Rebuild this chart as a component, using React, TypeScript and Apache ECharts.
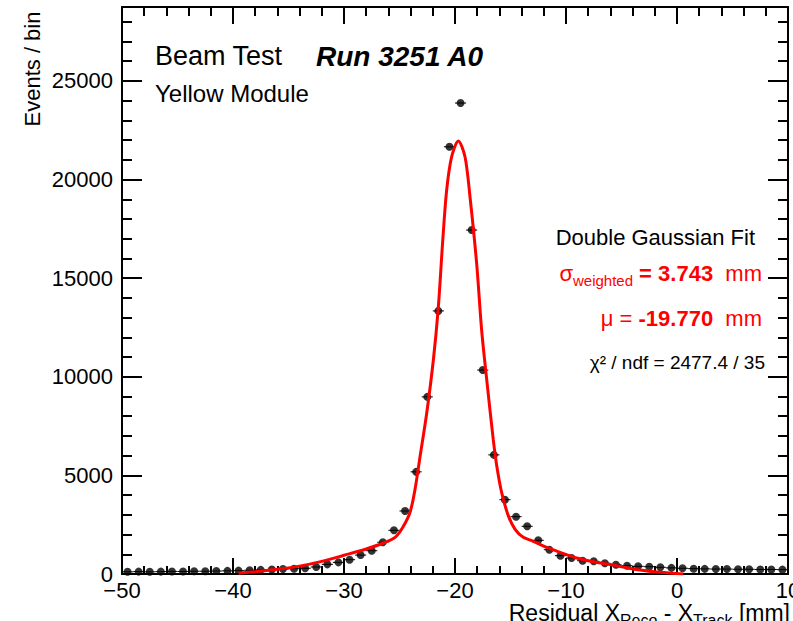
import React, { useEffect, useRef } from "react";
import * as echarts from "echarts";

const binCenters = [
  -49.5, -48.5, -47.5, -46.5, -45.5, -44.5, -43.5, -42.5, -41.5, -40.5,
  -39.5, -38.5, -37.5, -36.5, -35.5, -34.5, -33.5, -32.5, -31.5, -30.5,
  -29.5, -28.5, -27.5, -26.5, -25.5, -24.5, -23.5, -22.5, -21.5, -20.5,
  -19.5, -18.5, -17.5, -16.5, -15.5, -14.5, -13.5, -12.5, -11.5, -10.5,
  -9.5, -8.5, -7.5, -6.5, -5.5, -4.5, -3.5, -2.5, -1.5, -0.5,
  0.5, 1.5, 2.5, 3.5, 4.5, 5.5, 6.5, 7.5, 8.5, 9.5,
];
const counts = [
  110, 120, 110, 120, 130, 130, 140, 140, 150, 160,
  170, 190, 210, 230, 250, 270, 290, 355, 490, 590,
  725, 960, 1180, 1610, 2215, 3195, 5180, 8980, 13340, 21660,
  23880, 17440, 10340, 6040, 3768, 2906, 2419, 1709, 1232, 928,
  811, 674, 644, 543, 470, 420, 390, 370, 340, 310,
  290, 270, 260, 250, 250, 240, 240, 230, 230, 220,
];
const halfBin = 0.5;

const fitX = [
  -39.5, -38.0, -36.0, -34.0, -32.0, -30.0, -28.0, -26.5, -25.4, -24.7,
  -24.05, -23.6, -23.15, -22.55, -21.95, -21.5, -21.1, -20.75, -20.3, -19.7,
  -19.1, -18.65, -18.05, -17.6, -17.14, -16.55, -16.24, -15.8, -15.2, -14.6,
  -13.85, -12.95, -11.74, -10.54, -9.04, -7.54, -5.43, -3.33, -1.53, 0.57,
];
const fitY = [
  40, 120, 240, 400, 640, 950, 1270, 1560, 1860, 2370,
  3130, 4300, 5950, 8150, 10850, 13550, 16940, 19470, 21160, 21950,
  21160, 19130, 15750, 12370, 9840, 6800, 5490, 4140, 2960, 2280,
  1860, 1660, 1350, 1100, 810, 620, 420, 200, 85, 0,
];

const xMin = -50;
const xMax = 10;
const yMax = 28750;

const FONT = "'Liberation Sans', Arial, Helvetica, sans-serif";

export default function App() {
  const ref = useRef<HTMLDivElement>(null);
  useEffect(() => {
    if (!ref.current) return;
    const chart = echarts.init(ref.current, undefined, { renderer: "svg" });
    const black = "#000";
    const fmtX = (v: number) => (v < 0 ? "\u2212" + Math.abs(v) : String(v));
    const baseAxisLine = { show: true, onZero: false, lineStyle: { color: black, width: 2 } };
    const hiddenLine = { show: false, onZero: false };

    const option: any = {
      animation: false,
      grid: { left: 122, right: 5, top: 7, bottom: 47, containLabel: false, outerBoundsMode: "none" },
      xAxis: [
        {
          type: "value", min: xMin, max: xMax, interval: 10, position: "bottom",
          axisLine: baseAxisLine,
          axisTick: { show: true, inside: true, length: 16, lineStyle: { color: black, width: 2 } },
          minorTick: { show: true, splitNumber: 5, length: 8, lineStyle: { color: black, width: 2 } },
          axisLabel: { show: true, margin: 5, color: black, fontSize: 22, fontFamily: FONT, formatter: fmtX },
          splitLine: { show: false },
        },
        {
          type: "value", min: xMin, max: xMax, interval: 10, position: "top",
          axisLine: baseAxisLine,
          axisTick: { show: true, inside: true, length: 17, lineStyle: { color: black, width: 2 } },
          minorTick: { show: true, splitNumber: 5, length: 9, lineStyle: { color: black, width: 2 } },
          axisLabel: { show: false },
          splitLine: { show: false },
        },
      ],
      yAxis: [
        {
          type: "value", min: 0, max: yMax, interval: 5000, position: "left",
          axisLine: baseAxisLine,
          axisTick: { show: true, inside: true, length: 20, lineStyle: { color: black, width: 2 } },
          axisLabel: {
            show: true, margin: 9, color: black, fontSize: 22, fontFamily: FONT,
            formatter: (v: number) => (v % 5000 === 0 ? String(v) : ""),
          },
          splitLine: { show: false },
        },
        {
          type: "value", min: 0, max: yMax, interval: 1000, position: "left",
          axisLine: hiddenLine,
          axisTick: { show: true, inside: true, length: 10, lineStyle: { color: black, width: 2 } },
          axisLabel: { show: false },
          splitLine: { show: false },
        },
        {
          type: "value", min: 0, max: yMax, interval: 5000, position: "right",
          axisLine: baseAxisLine,
          axisTick: { show: true, inside: true, length: 20, lineStyle: { color: black, width: 2 } },
          axisLabel: { show: false },
          splitLine: { show: false },
        },
        {
          type: "value", min: 0, max: yMax, interval: 1000, position: "right",
          axisLine: hiddenLine,
          axisTick: { show: true, inside: true, length: 10, lineStyle: { color: black, width: 2 } },
          axisLabel: { show: false },
          splitLine: { show: false },
        },
      ],
      series: [
        {
          type: "custom",
          xAxisIndex: 0, yAxisIndex: 0,
          clip: true,
          data: binCenters.map((x, i) => [x, counts[i]]),
          renderItem: (params: any, api: any) => {
            const x = api.value(0);
            const y = api.value(1);
            const p1 = api.coord([x - halfBin, y]);
            const p2 = api.coord([x + halfBin, y]);
            return {
              type: "line",
              shape: { x1: p1[0], y1: p1[1], x2: p2[0], y2: p2[1] },
              style: { stroke: black, lineWidth: 1 },
            };
          },
          z: 2,
        },
        {
          type: "scatter",
          xAxisIndex: 0, yAxisIndex: 0,
          symbol: "circle",
          symbolSize: 8,
          itemStyle: { color: black },
          data: binCenters.map((x, i) => [x, counts[i]]),
          z: 3,
        },
        {
          type: "line",
          xAxisIndex: 0, yAxisIndex: 0,
          data: fitX.map((x, i) => [x, fitY[i]]),
          smooth: 0.3,
          showSymbol: false,
          symbol: "none",
          lineStyle: { color: "#ff0000", width: 3 },
          z: 4,
        },
      ],
      graphic: [
        {
          type: "text", x: 155, y: 56,
          style: { text: "Beam Test", fill: black, font: `27px ${FONT}`, align: "left", verticalAlign: "middle" },
        },
        {
          type: "text", x: 316, y: 56,
          style: { text: "Run 3251 A0", fill: black, font: `italic bold 28px ${FONT}`, align: "left", verticalAlign: "middle" },
        },
        {
          type: "text", x: 155, y: 93,
          style: { text: "Yellow Module", fill: black, font: `24px ${FONT}`, align: "left", verticalAlign: "middle" },
        },
        {
          type: "text", x: 755, y: 237,
          style: { text: "Double Gaussian Fit", fill: black, font: `22px ${FONT}`, align: "right", verticalAlign: "middle" },
        },
        {
          type: "text", x: 762, y: 273,
          style: {
            text: "{n|\u03c3}{sub|weighted}{b| = 3.743}{n|  mm}",
            align: "right", verticalAlign: "middle",
            rich: {
              n: { fontSize: 22, fontFamily: FONT, fill: "#ff0000", color: "#ff0000", lineHeight: 30 },
              b: { fontSize: 22, fontWeight: "bold", fontFamily: FONT, fill: "#ff0000", color: "#ff0000", lineHeight: 30 },
              sub: { fontSize: 15, fontFamily: FONT, fill: "#ff0000", color: "#ff0000", lineHeight: 15, verticalAlign: "bottom" },
            },
          },
        },
        {
          type: "text", x: 762, y: 318,
          style: {
            text: "{n|\u03bc = }{b|-19.770}{n|  mm}",
            align: "right", verticalAlign: "middle",
            rich: {
              n: { fontSize: 22, fontFamily: FONT, fill: "#ff0000", color: "#ff0000", lineHeight: 30 },
              b: { fontSize: 22, fontWeight: "bold", fontFamily: FONT, fill: "#ff0000", color: "#ff0000", lineHeight: 30 },
            },
          },
        },
        {
          type: "text", x: 765, y: 362,
          style: { text: "\u03c7\u00b2 / ndf = 2477.4 / 35", fill: black, font: `19px ${FONT}`, align: "right", verticalAlign: "middle" },
        },
        {
          type: "text", x: 32, y: 69, rotation: Math.PI / 2,
          style: { text: "Events / bin", fill: black, font: `22px ${FONT}`, align: "center", verticalAlign: "middle" },
        },
        {
          type: "text", x: 790, y: 613,
          style: {
            text: "{n|Residual X}{sub|Reco}{n| - X}{sub|Track}{n| [mm]}",
            align: "right", verticalAlign: "middle",
            rich: {
              n: { fontSize: 23, fontFamily: FONT, fill: black, color: black, lineHeight: 30 },
              sub: { fontSize: 16, fontFamily: FONT, fill: black, color: black, lineHeight: 15, verticalAlign: "bottom" },
            },
          },
        },
      ],
    };
    chart.setOption(option);
    return () => chart.dispose();
  }, []);
  return (
    <div
      ref={ref}
      style={{ position: "fixed", left: 0, top: 0, width: 793, height: 621, background: "#fff" }}
    />
  );
}
